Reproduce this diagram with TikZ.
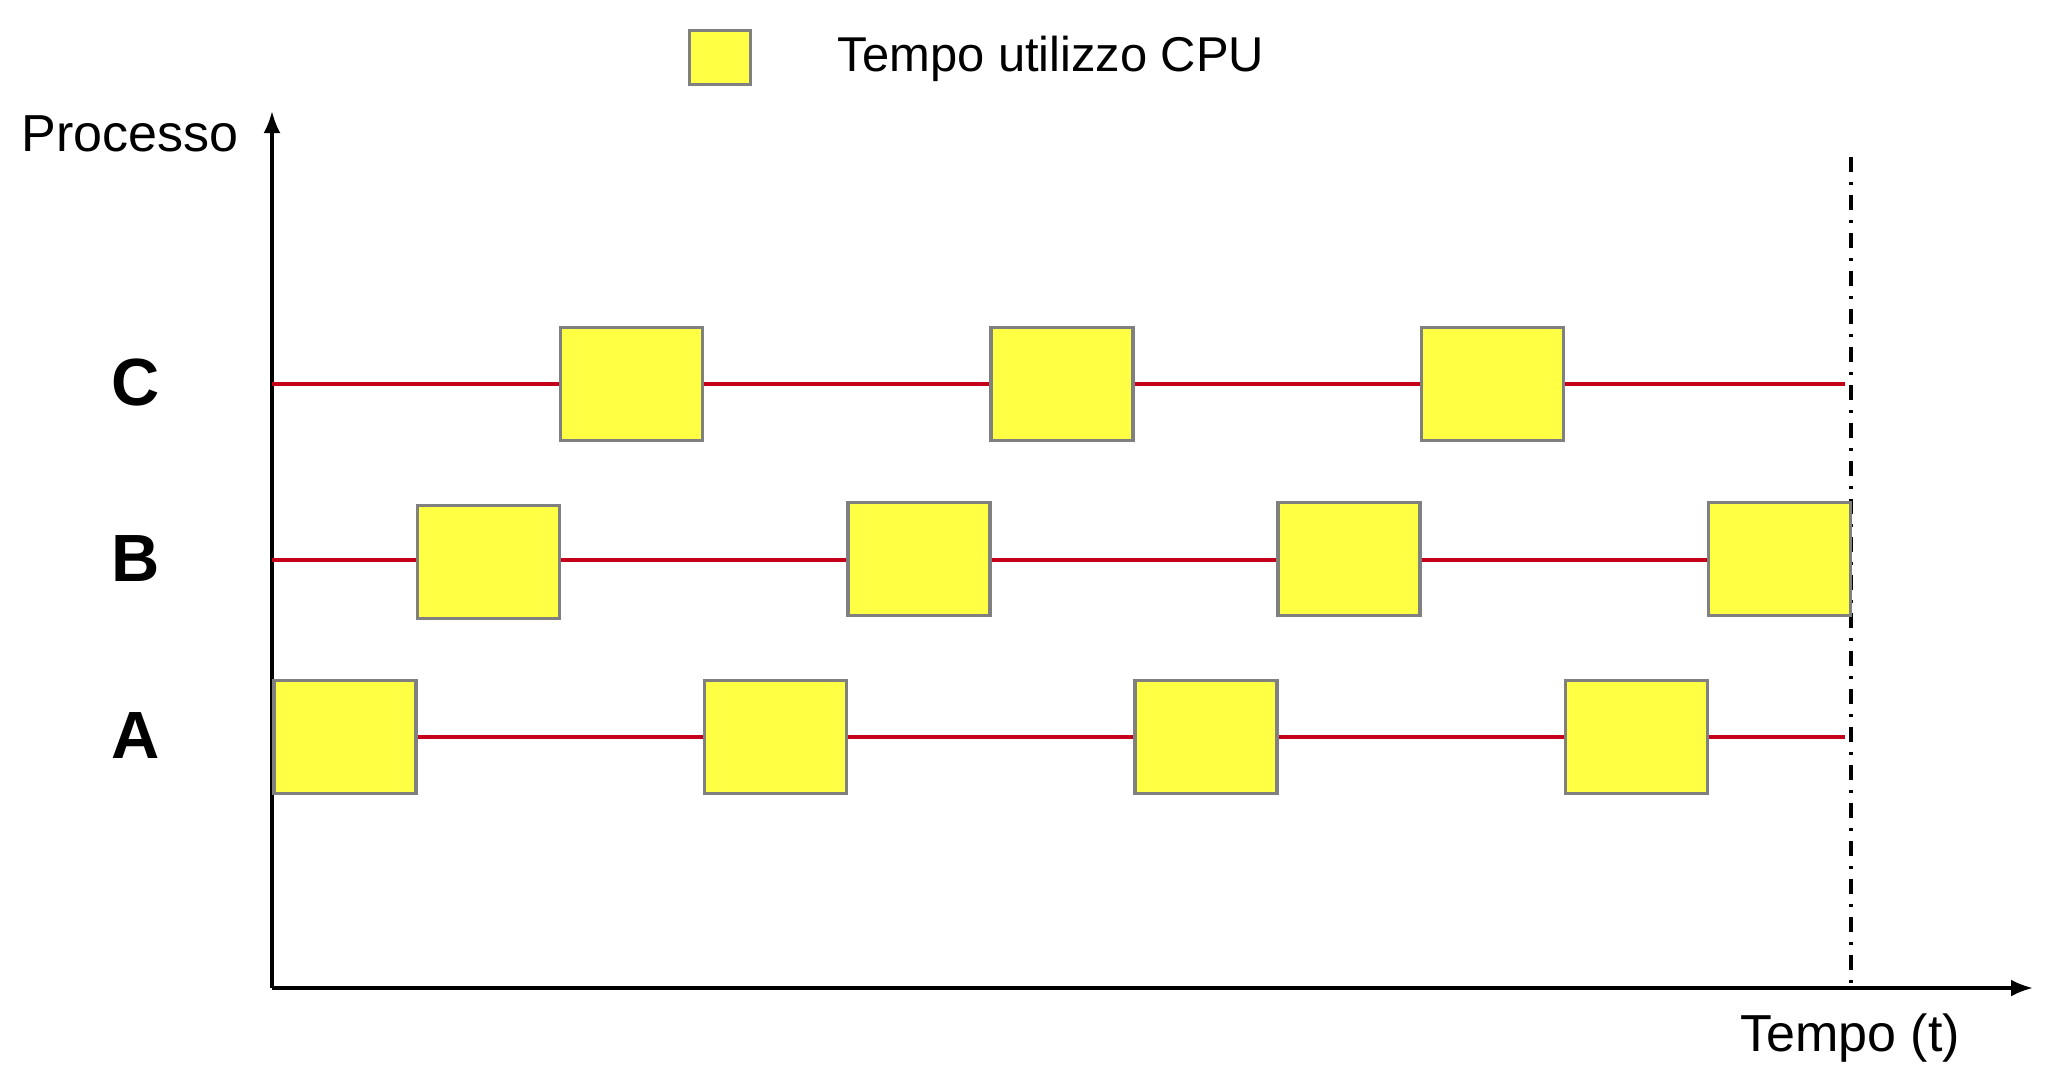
\documentclass[tikz,border=0pt]{standalone}
\usepackage{fontspec}
\setmainfont{Liberation Sans}
\usetikzlibrary{arrows.meta}
\definecolor{cpuyellow}{HTML}{FFFF44}
\definecolor{boxgray}{HTML}{808080}
\definecolor{waitred}{HTML}{C4001A}
\begin{document}
\begin{tikzpicture}[x=0.01cm, y=-0.01cm,
    cpu/.style={rectangle, draw=boxgray, fill=cpuyellow, line width=1pt, minimum width=1.42cm, minimum height=1.13cm, inner sep=0pt},
    wait/.style={waitred, line width=1.05pt},
    axis/.style={line width=1pt, -{Latex[length=0.22cm, width=0.17cm]}},
    rowlabel/.style={anchor=base, font=\fontsize{19}{22}\selectfont\bfseries},
    axislabel/.style={anchor=base, font=\fontsize{14.8}{17}\selectfont}]
  \useasboundingbox (0,0) rectangle (2052,1082);
  % axes
  \coordinate (O) at (272,988);
  \coordinate (ytop) at (272,111);
  \coordinate (xend) at (2033,988);
  \draw[axis] (O) -- (ytop);
  \draw[axis] (O) -- (xend);
  \node[axislabel] (proc) at (130,152) {Processo};
  \node[axislabel] (tempo) at (1850,1051) {Tempo (t)};
  % end of observation
  \coordinate (tstart) at (1851,157);
  \coordinate (tend) at (1851,988);
  \draw[line width=1pt, dash pattern=on 0.15cm off 0.1cm on 0.03cm off 0.1cm] (tstart) -- (tend);
  % legend
  \node[cpu, minimum width=0.61cm, minimum height=0.54cm] (key) at (720,57.5) {};
  \node[anchor=base, font=\fontsize{13.9}{16}\selectfont] (keytext) at (1051,72) {Tempo utilizzo CPU};
  % row labels
  \node[rowlabel] (lblC) at (136,405) {C};
  \node[rowlabel] (lblB) at (136,581) {B};
  \node[rowlabel] (lblA) at (136,758) {A};
  % row ends
  \coordinate (Cstart) at (272,384);
  \coordinate (Cend) at (1845,384);
  \coordinate (Bstart) at (272,560);
  \coordinate (Aend) at (1845,737);
  % CPU bursts
  \node[cpu] (A1) at (345,737) {};
  \node[cpu] (A2) at (775.5,737) {};
  \node[cpu] (A3) at (1206,737) {};
  \node[cpu] (A4) at (1636.5,737) {};
  \node[cpu] (B1) at (488.5,562) {};
  \node[cpu] (B2) at (919,559) {};
  \node[cpu] (B3) at (1349,559) {};
  \node[cpu] (B4) at (1779.5,559) {};
  \node[cpu] (C1) at (631.5,384) {};
  \node[cpu] (C2) at (1062,384) {};
  \node[cpu] (C3) at (1492.5,384) {};
  % waiting
  \draw[wait] (A1.east) -- (A2.west);
  \draw[wait] (A2.east) -- (A3.west);
  \draw[wait] (A3.east) -- (A4.west);
  \draw[wait] (A4.east) -- (Aend);
  \draw[wait] (Bstart) -- (B1.west |- Bstart);
  \draw[wait] (B1.east |- Bstart) -- (B2.west |- Bstart);
  \draw[wait] (B2.east |- Bstart) -- (B3.west |- Bstart);
  \draw[wait] (B3.east |- Bstart) -- (B4.west |- Bstart);
  \draw[wait] (Cstart) -- (C1.west);
  \draw[wait] (C1.east) -- (C2.west);
  \draw[wait] (C2.east) -- (C3.west);
  \draw[wait] (C3.east) -- (Cend);
\end{tikzpicture}
\end{document}
